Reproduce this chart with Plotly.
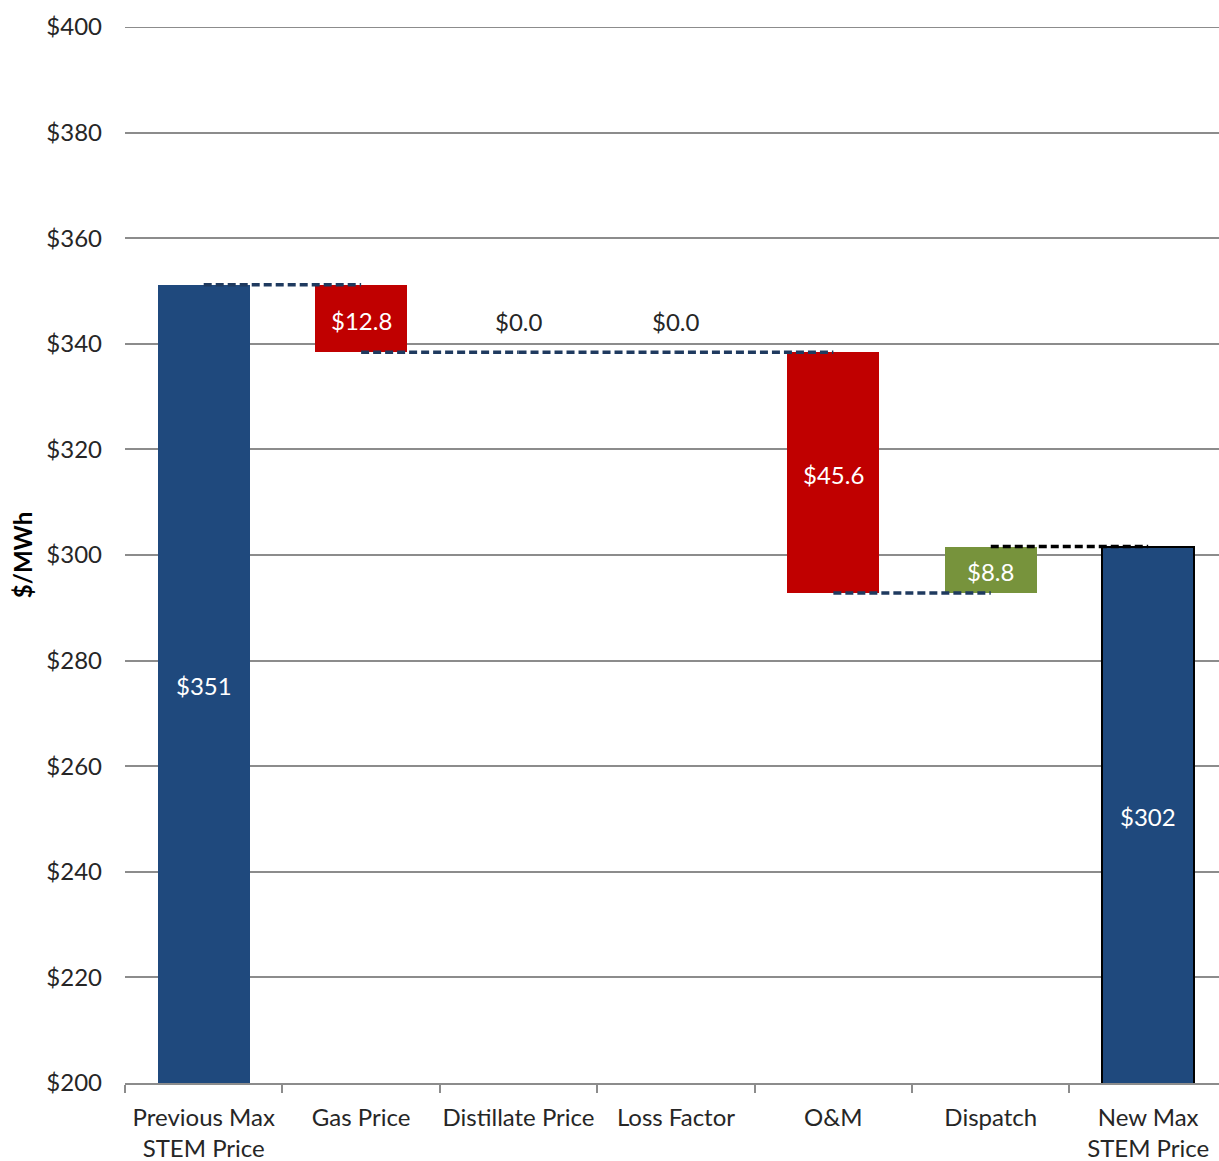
import plotly.graph_objects as go

categories = ["Previous Max<br>STEM Price", "Gas Price", "Distillate Price", "Loss Factor",
              "O&M", "Dispatch", "New Max<br>STEM Price"]
start_value = 351.2
changes = [-12.8, 0.0, 0.0, -45.6, 8.8]
y_ticks = [200, 220, 240, 260, 280, 300, 320, 340, 360, 380, 400]
y_tick_labels = ["$" + str(v) for v in y_ticks]

NAVY = "#1F497D"
RED = "#C00000"
GREEN = "#77933C"
GRID = "#8C8C8C"
TEXT = "#262626"
FONT = "Lato"
FS = 24

# build waterfall geometry from data
levels = [start_value]
for c in changes:
    levels.append(levels[-1] + c)
end_value = levels[-1]

xs = list(range(len(categories)))
bases, heights, colors, texts, lines_c, lines_w = [], [], [], [], [], []
bases.append(0); heights.append(start_value); colors.append(NAVY)
texts.append(f"${start_value:.0f}"); lines_c.append(NAVY); lines_w.append(0)
for i, c in enumerate(changes):
    lo = min(levels[i], levels[i + 1])
    bases.append(lo); heights.append(abs(c))
    colors.append(GREEN if c > 0 else RED)
    texts.append(f"${abs(c):.1f}" if c != 0 else "")
    lines_c.append(GREEN if c > 0 else RED); lines_w.append(0)
bases.append(0); heights.append(end_value); colors.append(NAVY)
texts.append(f"${end_value:.0f}"); lines_c.append("#000000"); lines_w.append(2)

fig = go.Figure()
fig.add_trace(go.Bar(
    x=xs, y=heights, base=bases, width=0.585,
    marker=dict(color=colors, line=dict(color=lines_c, width=lines_w)),
    showlegend=False, hoverinfo="skip",
))

# labels centred on visible part of each bar
ymin = y_ticks[0]
for i in xs:
    if texts[i] == "":
        continue
    lo = max(bases[i], ymin)
    hi = bases[i] + heights[i]
    fig.add_annotation(x=i, y=(lo + hi) / 2, text=texts[i], showarrow=False, yshift=-2,
                       font=dict(color="white", size=FS, family=FONT))
# zero-change labels above the level line
for i, c in enumerate(changes):
    if c == 0:
        fig.add_annotation(x=i + 1, y=levels[i + 1], text=f"${abs(c):.1f}", showarrow=False,
                           yshift=31, font=dict(color=TEXT, size=FS, family=FONT))

# connectors (centre to centre)
n = len(levels) - 1
cx, cy = [], []
for i in range(n):
    cx += [i, i + 1, None]
    cy += [levels[i], levels[i], None]
fig.add_trace(go.Scatter(x=cx, y=cy, mode="lines", line=dict(color="#1F3A5F", width=3.5, dash="8px,4px"),
                         showlegend=False, hoverinfo="skip", connectgaps=False))
fig.add_trace(go.Scatter(x=[n, n + 1], y=[levels[n], levels[n]], mode="lines",
                         line=dict(color="#000000", width=3.5, dash="8px,4px"),
                         showlegend=False, hoverinfo="skip"))

# top gridline (plotly skips the grid line on the plot edge)
fig.add_shape(type="line", xref="paper", x0=0, x1=1, yref="y", y0=y_ticks[-1], y1=y_ticks[-1],
              line=dict(color=GRID, width=2), layer="below")

fig.update_layout(
    width=1219, height=1161,
    margin=dict(l=125, r=0, t=27, b=78),
    paper_bgcolor="white", plot_bgcolor="white",
    font=dict(family=FONT, size=FS, color=TEXT),
    bargap=0,
    xaxis=dict(
        range=[-0.5, 6.45], tickmode="array", tickvals=xs, ticktext=categories,
        ticks="", showgrid=False, zeroline=False,
        showline=True, linecolor=GRID, linewidth=2,
        tickfont=dict(size=FS, family=FONT, color=TEXT),
        ticklabelstandoff=12,
        minor=dict(tickmode="array", tickvals=[i - 0.5 for i in xs], ticks="outside",
                   ticklen=8, tickcolor=GRID, tickwidth=2, showgrid=False),
    ),
    yaxis=dict(
        range=[200, 400], tickmode="array", tickvals=y_ticks, ticktext=y_tick_labels,
        showgrid=True, gridcolor=GRID, gridwidth=2, zeroline=False, showline=False,
        ticks="", ticklabelstandoff=22,
        tickfont=dict(size=FS, family=FONT, color=TEXT),
        title=dict(text="<b>$/MWh</b>", font=dict(size=FS, family=FONT, color="#000000"), standoff=6),
    ),
)

fig.write_html("out.html", config={"displayModeBar": False},
               post_script="document.body.style.margin='0px';document.body.style.overflow='hidden';")
